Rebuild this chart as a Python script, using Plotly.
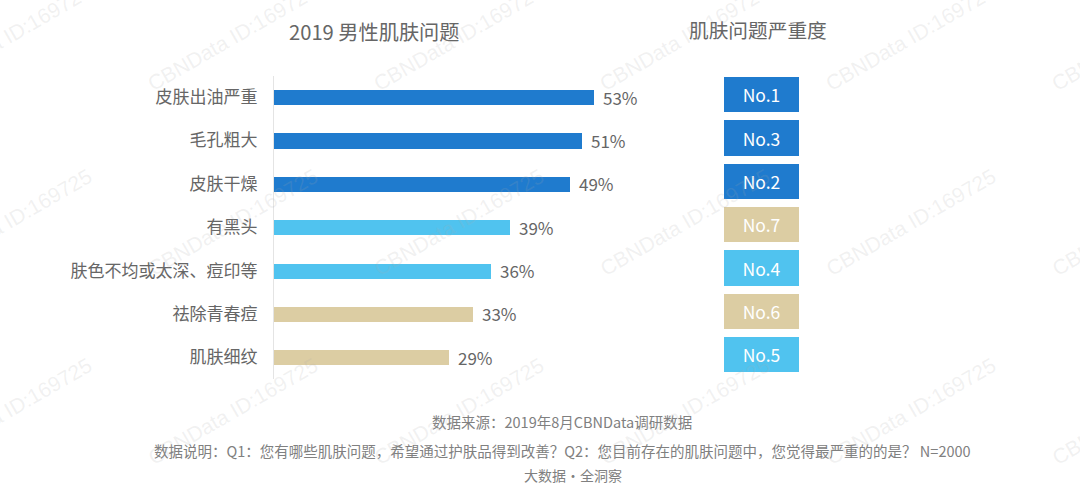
import plotly.graph_objects as go

categories = ["皮肤出油严重", "毛孔粗大", "皮肤干燥", "有黑头", "肤色不均或太深、痘印等", "祛除青春痘", "肌肤细纹"]
values = [53, 51, 49, 39, 36, 33, 29]
severity = ["No.1", "No.3", "No.2", "No.7", "No.4", "No.6", "No.5"]
BLUE, CYAN, SAND = "#1f7bce", "#50c3ef", "#dccda3"
bar_colors = [BLUE, BLUE, BLUE, CYAN, CYAN, SAND, SAND]
sev_colors = [BLUE, BLUE, BLUE, SAND, CYAN, SAND, CYAN]
title_left = "2019 男性肌肤问题"
title_right = "肌肤问题严重度"
footer = [
    ("数据来源\uff1a2019年8月CBNData调研数据", 562, 421, 14.5),
    ("数据说明\uff1aQ1\uff1a您有哪些肌肤问题\uff0c希望通过护肤品得到改善\uff1fQ2\uff1a您目前存在的肌肤问题中\uff0c您觉得最严重的的是\uff1f N=2000", 562, 450, 14.5),
    ("大数据·全洞察", 573, 475, 14),
]
watermark = "CBNData ID:169725"
wm_xs = [6, 232, 458, 684, 910, 1136]
wm_ys = [38, 222, 411]

W, H = 1080, 493
FONT = "Noto Sans CJK SC, Noto Sans, sans-serif"
GREY = "#666666"

fig = go.Figure()
fig.add_bar(x=values, y=categories, orientation="h", marker=dict(color=bar_colors, line_width=0),
            width=0.35, xaxis="x", yaxis="y", hoverinfo="skip", showlegend=False)
fig.add_bar(x=[1] * len(severity), y=severity, orientation="h", marker=dict(color=sev_colors, line_width=0),
            width=0.81, text=severity, textposition="inside", insidetextanchor="middle",
            textangle=0, textfont=dict(color="white", size=17.5, family=FONT),
            xaxis="x2", yaxis="y2", hoverinfo="skip", showlegend=False)

ann = []
for c, v in zip(categories, values):
    ann.append(dict(x=v, y=c, xref="x", yref="y", text=f"{v}%", showarrow=False, xanchor="left", yanchor="middle",
                    xshift=7, font=dict(size=17, color=GREY, family=FONT)))
ann.append(dict(x=374 / W, y=1 - 31 / H, xref="paper", yref="paper", text=title_left, showarrow=False,
                xanchor="center", yanchor="middle", font=dict(size=20.2, color=GREY, family=FONT)))
ann.append(dict(x=758 / W, y=1 - 29 / H, xref="paper", yref="paper", text=title_right, showarrow=False,
                xanchor="center", yanchor="middle", font=dict(size=19.7, color=GREY, family=FONT)))
for t, x, y, s in footer:
    ann.append(dict(x=x / W, y=1 - y / H, xref="paper", yref="paper", text=t, showarrow=False,
                    xanchor="center", yanchor="middle", font=dict(size=s, color="#808080", family=FONT)))
for y in wm_ys:
    for x in wm_xs:
        ann.append(dict(x=x / W, y=1 - y / H, xref="paper", yref="paper", text=watermark, showarrow=False,
                        xanchor="center", yanchor="middle", textangle=-30,
                        font=dict(size=21, color="rgba(170,170,170,0.17)", family="Liberation Sans")))

fig.update_layout(
    width=W, height=H, margin=dict(l=0, r=0, t=0, b=0), paper_bgcolor="white", plot_bgcolor="white",
    bargap=0, annotations=ann,
    xaxis=dict(domain=[274 / W, 674 / W], range=[0, 400 / 6.04], visible=False, fixedrange=True),
    yaxis=dict(domain=[1 - 379 / H, 1 - 75.5 / H], categoryorder="array", categoryarray=categories,
               autorange="reversed", showline=True, linecolor="#e4e4e4", linewidth=1, ticks="outside",
               ticklen=12, tickcolor="rgba(0,0,0,0)", showgrid=False, zeroline=False,
               tickfont=dict(size=17, color=GREY, family=FONT), anchor="x"),
    xaxis2=dict(domain=[724 / W, 799 / W], range=[0, 1], visible=False, fixedrange=True),
    yaxis2=dict(domain=[1 - 376.7 / H, 1 - 73.3 / H], categoryorder="array", categoryarray=severity,
                autorange="reversed", visible=False, anchor="x2"),
)
fig.write_html("out.html", config=dict(displayModeBar=False),
               post_script="document.body.style.margin='0';document.documentElement.style.overflow='hidden';")
